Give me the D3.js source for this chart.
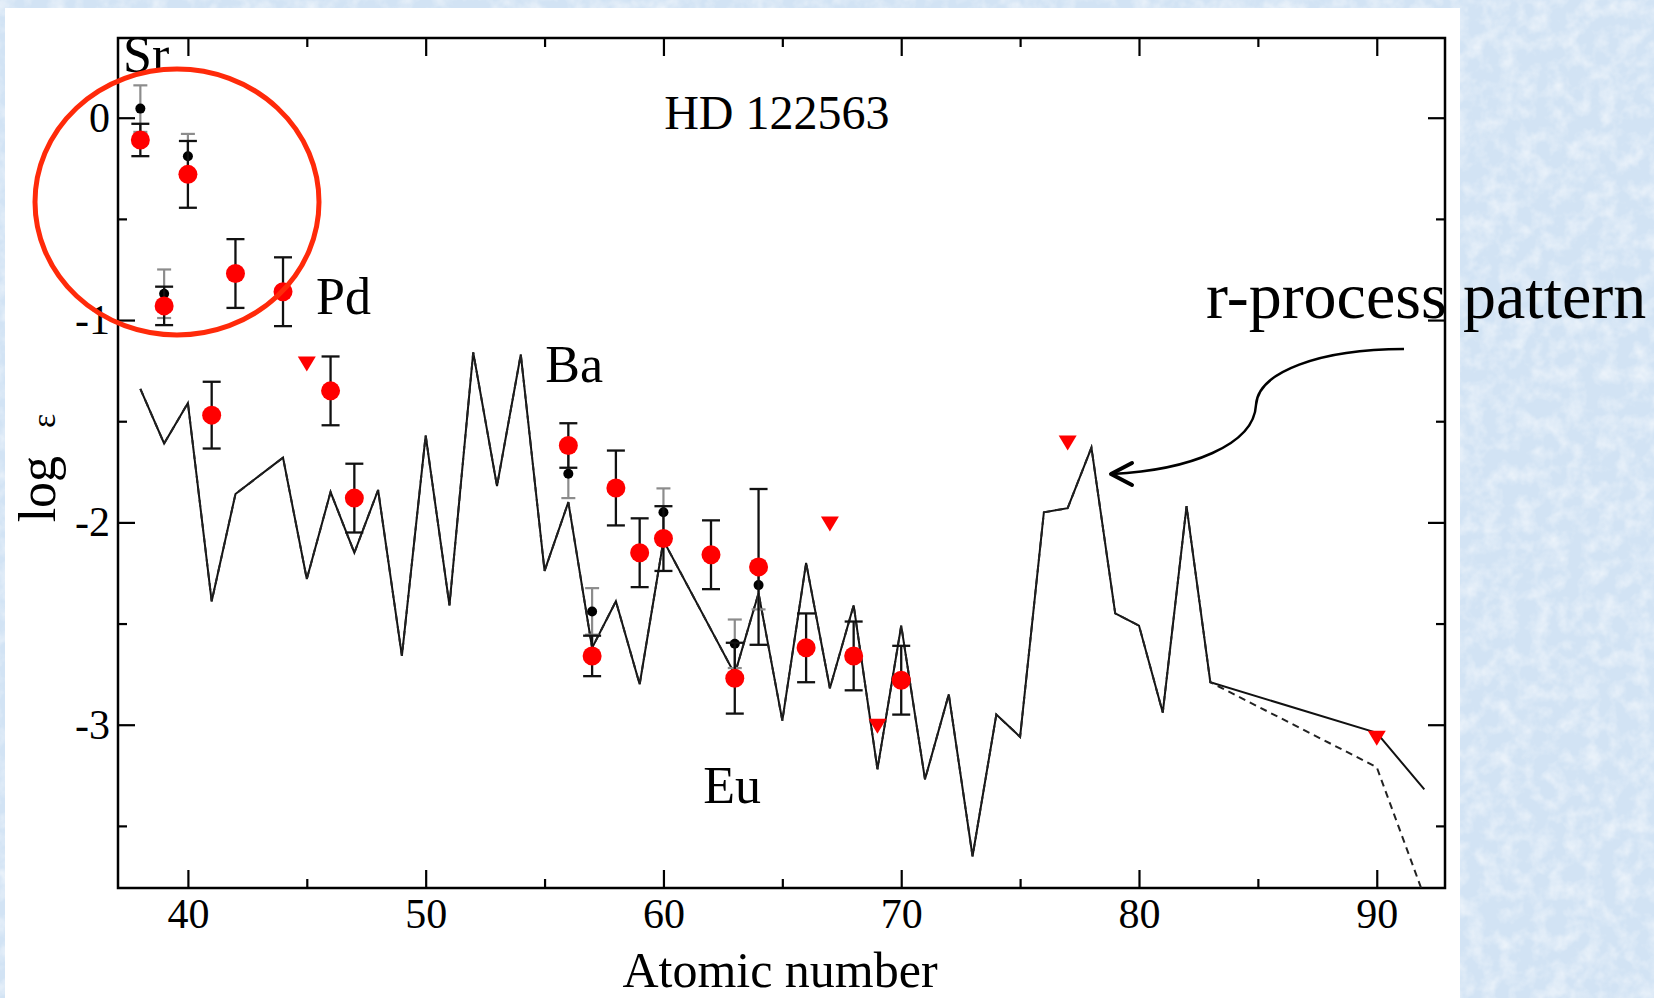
<!DOCTYPE html>
<html>
<head>
<meta charset="utf-8">
<title>HD 122563</title>
<script src="https://cdn.jsdelivr.net/npm/d3@7"></script>
<style>
  body { margin: 0; background: #d4e5f5; }
  svg text { font-family: "Liberation Serif", "Times New Roman", serif; fill: #000; }
</style>
</head>
<body>
<svg id="chart" width="1654" height="998"></svg>
<script>
// scaled solar r-process pattern (solid line)
const patternZ = [38,39,40,41,42,44,45,46,47,48,49,50,51,52,53,54,55,56,57,58,59,60,63,64,65,66,67,68,69,70,71,72,73,74,75,76,77,78,79,80,81,82,83,90,92];
const patternLogEps = [-1.34,-1.61,-1.41,-2.39,-1.86,-1.68,-2.28,-1.85,-2.15,-1.84,-2.66,-1.57,-2.41,-1.16,-1.82,-1.17,-2.24,-1.90,-2.62,-2.39,-2.80,-2.09,-2.75,-2.35,-2.98,-2.20,-2.82,-2.41,-3.22,-2.51,-3.27,-2.85,-3.65,-2.95,-3.06,-1.95,-1.93,-1.63,-2.45,-2.51,-2.94,-1.92,-2.79,-3.04,-3.32];
// second pattern (dashed): same up to Bi, differs for Th and U
const dashTailZ = [90, 92];
const dashTailLogEps = [-3.21, -3.85];

// abundances, red filled circles
const redZ = [38,39,40,41,42,44,46,47,56,57,58,59,60,62,63,64,66,68,70];
const redLogEps = [-0.11,-0.93,-0.28,-1.47,-0.77,-0.86,-1.35,-1.88,-1.62,-2.66,-1.83,-2.15,-2.08,-2.16,-2.77,-2.22,-2.62,-2.66,-2.78];
const redErr = [0.08,0.095,0.165,0.165,0.17,0.17,0.17,0.17,0.11,0.10,0.185,0.17,0.16,0.17,0.175,0.385,0.17,0.17,0.17];

// abundances from another study, small black dots
const blackZ = [38,39,40,56,57,60,63,64];
const blackLogEps = [0.045,-0.87,-0.19,-1.76,-2.44,-1.95,-2.60,-2.31];
const blackErr = [0.115,0.12,0.11,0.12,0.115,0.118,0.12,0.12];

// upper limits, red down triangles
const limitZ = [45,67,69,77,90];
const limitLogEps = [-1.21,-2.00,-3.00,-1.60,-3.06];

const xMajor = [40,50,60,70,80,90];
const xMinor = [45,55,65,75,85];
const yMajor = [0,-1,-2,-3];
const yMinor = [-0.5,-1.5,-2.5,-3.5];

const svg = d3.select("#chart");
const L = 118, R = 1445, T = 38, B = 888;

const x = d3.scaleLinear().domain([37.06, 92.87]).range([L, R]);
const y = d3.scaleLinear().domain([-3.807, 0.394]).range([B, T]);

const defs = svg.append("defs");
defs.append("clipPath").attr("id", "plotclip")
  .append("rect").attr("x", L).attr("y", T).attr("width", R - L).attr("height", B - T);
// light paper-like texture for the blue backdrop
const flt = defs.append("filter").attr("id", "paper").attr("x", 0).attr("y", 0).attr("width", "100%").attr("height", "100%");
flt.append("feTurbulence").attr("type", "fractalNoise").attr("baseFrequency", 0.06).attr("numOctaves", 3).attr("seed", 4).attr("result", "n");
flt.append("feColorMatrix").attr("in", "n").attr("type", "matrix")
  .attr("values", "0 0 0 0 1  0 0 0 0 1  0 0 0 0 1  1.4 0 0 0 -0.55").attr("result", "w");
flt.append("feComposite").attr("in", "w").attr("in2", "SourceGraphic").attr("operator", "in");

// background + white panel
svg.append("rect").attr("width", 1654).attr("height", 998).attr("fill", "#d2e3f4");
svg.append("rect").attr("width", 1654).attr("height", 998).attr("fill", "#d2e3f4").attr("filter", "url(#paper)").attr("opacity", 0.8);
svg.append("rect").attr("x", 5).attr("y", 8).attr("width", 1455).attr("height", 990).attr("fill", "#fff");

// axes (ticks point inward)
function styleAxis(g) {
  g.select(".domain").remove();
  g.selectAll(".tick line").attr("stroke", "#000").attr("stroke-width", 2.2);
  g.selectAll(".tick text").attr("font-size", 42).attr("font-family", "Liberation Serif, serif").attr("fill", "#000");
}
const fmt = d => String(d);
svg.append("g").attr("transform", `translate(0,${B})`)
  .call(d3.axisBottom(x).tickValues(xMajor).tickSize(-18).tickPadding(10).tickFormat(fmt)).call(styleAxis);
svg.append("g").attr("transform", `translate(0,${B})`)
  .call(d3.axisBottom(x).tickValues(xMinor).tickSize(-9).tickFormat("")).call(styleAxis);
svg.append("g").attr("transform", `translate(0,${T})`)
  .call(d3.axisTop(x).tickValues(xMajor).tickSize(-18).tickFormat("")).call(styleAxis);
svg.append("g").attr("transform", `translate(0,${T})`)
  .call(d3.axisTop(x).tickValues(xMinor).tickSize(-9).tickFormat("")).call(styleAxis);
svg.append("g").attr("transform", `translate(${L},0)`)
  .call(d3.axisLeft(y).tickValues(yMajor).tickSize(-17).tickPadding(8).tickFormat(fmt)).call(styleAxis);
svg.append("g").attr("transform", `translate(${L},0)`)
  .call(d3.axisLeft(y).tickValues(yMinor).tickSize(-9).tickFormat("")).call(styleAxis);
svg.append("g").attr("transform", `translate(${R},0)`)
  .call(d3.axisRight(y).tickValues(yMajor).tickSize(-17).tickFormat("")).call(styleAxis);
svg.append("g").attr("transform", `translate(${R},0)`)
  .call(d3.axisRight(y).tickValues(yMinor).tickSize(-9).tickFormat("")).call(styleAxis);

svg.append("rect").attr("x", L).attr("y", T).attr("width", R - L).attr("height", B - T)
  .attr("fill", "none").attr("stroke", "#000").attr("stroke-width", 2.5);

// r-process pattern lines
const plot = svg.append("g").attr("clip-path", "url(#plotclip)");
const line = d3.line().x(d => x(d[0])).y(d => y(d[1]));
const solid = patternZ.map((z, i) => [z, patternLogEps[i]]);
const dashed = solid.filter(d => d[0] <= 83).concat(dashTailZ.map((z, i) => [z, dashTailLogEps[i]]));
plot.append("path").attr("d", line(solid)).attr("fill", "none").attr("stroke", "#111").attr("stroke-width", 2);
plot.append("path").attr("d", line(dashed)).attr("fill", "none").attr("stroke", "#222")
  .attr("stroke-width", 2).attr("stroke-dasharray", "7,5");

// error bars helper
function errBars(zs, vals, errs, color, cap, width) {
  const g = plot.append("g").attr("stroke", color).attr("stroke-width", width);
  zs.forEach((z, i) => {
    const cx = x(z), y1 = y(vals[i] + errs[i]), y2 = y(vals[i] - errs[i]);
    g.append("line").attr("x1", cx).attr("x2", cx).attr("y1", y1).attr("y2", y2);
    g.append("line").attr("x1", cx - cap).attr("x2", cx + cap).attr("y1", y1).attr("y2", y1);
    g.append("line").attr("x1", cx - cap).attr("x2", cx + cap).attr("y1", y2).attr("y2", y2);
  });
}

errBars(blackZ, blackLogEps, blackErr, "#8c8c8c", 7, 2.2);
plot.append("g").selectAll("circle").data(blackZ).join("circle")
  .attr("cx", d => x(d)).attr("cy", (d, i) => y(blackLogEps[i])).attr("r", 5).attr("fill", "#000");

errBars(redZ, redLogEps, redErr, "#111", 9, 2.3);
plot.append("g").selectAll("circle").data(redZ).join("circle")
  .attr("cx", d => x(d)).attr("cy", (d, i) => y(redLogEps[i])).attr("r", 9.5).attr("fill", "#ff0000");

plot.append("g").selectAll("path").data(limitZ).join("path")
  .attr("d", (d, i) => {
    const cx = x(d), cy = y(limitLogEps[i]);
    return `M${cx - 9},${cy - 6}L${cx + 9},${cy - 6}L${cx},${cy + 9}Z`;
  })
  .attr("fill", "#ff0000");

// labels
svg.append("text").attr("x", x(37.27)).attr("y", y(0.227)).attr("font-size", 52).text("Sr");
svg.append("text").attr("x", x(45.39)).attr("y", y(-0.968)).attr("font-size", 52).text("Pd");
svg.append("text").attr("x", x(55.03)).attr("y", y(-1.304)).attr("font-size", 52).text("Ba");
svg.append("text").attr("x", x(61.67)).attr("y", y(-3.388)).attr("font-size", 52).text("Eu");
svg.append("text").attr("x", x(60.03)).attr("y", y(-0.054)).attr("font-size", 48).text("HD 122563");

svg.append("text").attr("x", 780).attr("y", 987).attr("text-anchor", "middle").attr("font-size", 50).text("Atomic number");
const yl = svg.append("text").attr("transform", "translate(55,468) rotate(-90)").attr("text-anchor", "middle").attr("font-size", 52);
yl.append("tspan").text("log");
yl.append("tspan").attr("dx", 28).attr("font-size", 34).text("ε");

// annotation: red circle around Sr-Y-Zr
svg.append("ellipse").attr("cx", 177).attr("cy", 202).attr("rx", 142).attr("ry", 133)
  .attr("fill", "none").attr("stroke", "#ff2a0a").attr("stroke-width", 5);

// annotation: curved arrow + text
svg.append("text").attr("x", 1206).attr("y", 318).attr("font-size", 66).text("r-process pattern");
svg.append("path").attr("d", "M1404,349 C1320,349 1258,372 1256,405 C1254,445 1190,470 1112,474")
  .attr("fill", "none").attr("stroke", "#000").attr("stroke-width", 2.5);
svg.append("path").attr("d", "M1132,463 L1111,474 L1132,485")
  .attr("fill", "none").attr("stroke", "#000").attr("stroke-width", 4).attr("stroke-linecap", "round").attr("stroke-linejoin", "round");
</script>
</body>
</html>
